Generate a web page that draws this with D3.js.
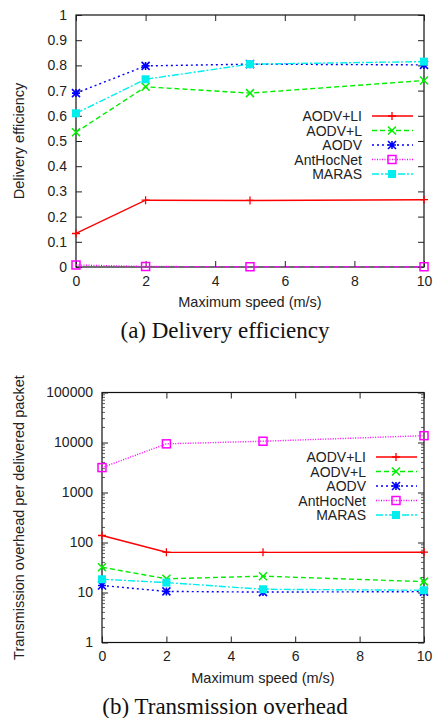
<!DOCTYPE html>
<html>
<head>
<meta charset="utf-8">
<script src="https://cdn.jsdelivr.net/npm/d3@7"></script>
<style>
  body { margin: 0; background: #fff; }
  svg { display: block; }
  .tick text, .lbl { font-family: "Liberation Sans", Arial, sans-serif; fill: #222; }
  .cap { font-family: "Liberation Serif", "Times New Roman", serif; fill: #111; }
</style>
</head>
<body>
<svg id="chart" width="435" height="718"></svg>
<script>
// speeds on the x axis
var speeds = [0, 2, 5, 10];
var seriesNames = ["AODV+LI", "AODV+L", "AODV", "AntHocNet", "MARAS"];

// (a) delivery efficiency
var effLI   = [0.133, 0.265, 0.264, 0.267];
var effL    = [0.535, 0.715, 0.690, 0.740];
var effAODV = [0.690, 0.798, 0.805, 0.802];
var effAnt  = [0.008, 0.002, 0.001, 0.001];
var effMAR  = [0.610, 0.745, 0.805, 0.815];

// (b) transmission overhead per delivered packet
var ovLI   = [138, 64, 63.5, 64];
var ovL    = [32, 18.8, 21.2, 16.5];
var ovAODV = [13.8, 10.5, 10.2, 10.4];
var ovAnt  = [3150, 9400, 10600, 13700];
var ovMAR  = [18.4, 15.8, 11.6, 11.1];

var effTicks = [0, 0.1, 0.2, 0.3, 0.4, 0.5, 0.6, 0.7, 0.8, 0.9, 1];
var ovTicks = [1, 10, 100, 1000, 10000, 100000];
var xTicks = [0, 2, 4, 6, 8, 10];

var styles = [
  { color: "#ff0000", dash: null,       marker: "plus" },
  { color: "#00ee00", dash: "5,3",      marker: "cross" },
  { color: "#0000ff", dash: "2,3",      marker: "star" },
  { color: "#ff00ff", dash: "1,1.5",    marker: "openSquare" },
  { color: "#00eeee", dash: "7,2,2,2",  marker: "fillSquare" }
];

var svg = d3.select("#chart");

function drawMarker(g, type, x, y, color) {
  var s = 4;
  if (type === "plus") {
    g.append("path").attr("d", "M" + (x - s) + "," + y + "H" + (x + s) + "M" + x + "," + (y - s) + "V" + (y + s))
      .attr("stroke", color).attr("stroke-width", 1.3).attr("fill", "none");
  } else if (type === "cross") {
    g.append("path").attr("d", "M" + (x - s) + "," + (y - s) + "L" + (x + s) + "," + (y + s) + "M" + (x - s) + "," + (y + s) + "L" + (x + s) + "," + (y - s))
      .attr("stroke", color).attr("stroke-width", 1.5).attr("fill", "none");
  } else if (type === "star") {
    g.append("path").attr("d", "M" + (x - s) + "," + y + "H" + (x + s) + "M" + x + "," + (y - s) + "V" + (y + s) +
        "M" + (x - s) + "," + (y - s) + "L" + (x + s) + "," + (y + s) + "M" + (x - s) + "," + (y + s) + "L" + (x + s) + "," + (y - s))
      .attr("stroke", color).attr("stroke-width", 1.6).attr("fill", "none");
  } else if (type === "openSquare") {
    g.append("rect").attr("x", x - s).attr("y", y - s).attr("width", 2 * s).attr("height", 2 * s)
      .attr("stroke", color).attr("stroke-width", 1.5).attr("fill", "none");
  } else {
    g.append("rect").attr("x", x - s).attr("y", y - s).attr("width", 2 * s).attr("height", 2 * s)
      .attr("fill", color);
  }
}

function drawPanel(p) {
  var g = svg.append("g");
  var x = d3.scaleLinear().domain([0, 10]).range([p.left, p.right]);
  var y = p.y;

  // frame
  g.append("rect").attr("x", p.left).attr("y", p.top).attr("width", p.right - p.left).attr("height", p.bottom - p.top)
    .attr("fill", "none").attr("stroke", "#111").attr("stroke-width", 1.2);

  // ticks on all four sides, labels only bottom/left
  var xb = g.append("g").attr("transform", "translate(0," + p.bottom + ")")
    .call(d3.axisBottom(x).tickValues(xTicks).tickSizeInner(-6).tickSizeOuter(0).tickPadding(9));
  var xt = g.append("g").attr("transform", "translate(0," + p.top + ")")
    .call(d3.axisTop(x).tickValues(xTicks).tickSizeInner(-6).tickSizeOuter(0).tickFormat(""));
  var yl = g.append("g").attr("transform", "translate(" + p.left + ",0)")
    .call(d3.axisLeft(y).tickValues(p.ticks).tickSizeInner(-6).tickSizeOuter(0).tickPadding(9).tickFormat(p.fmt));
  var yr = g.append("g").attr("transform", "translate(" + p.right + ",0)")
    .call(d3.axisRight(y).tickValues(p.ticks).tickSizeInner(-6).tickSizeOuter(0).tickFormat(""));
  [xb, xt, yl, yr].forEach(function (a) {
    a.select(".domain").remove();
    a.selectAll(".tick line").attr("stroke", "#222");
    a.selectAll(".tick text").style("font-size", "14px");
  });

  // minor log ticks
  if (p.minor) {
    var minor = [];
    p.ticks.slice(0, -1).forEach(function (d) {
      for (var k = 2; k <= 9; k++) minor.push(d * k);
    });
    g.selectAll(".mnl").data(minor).enter().append("line")
      .attr("x1", p.left).attr("x2", p.left + 3)
      .attr("y1", function (d) { return y(d); }).attr("y2", function (d) { return y(d); })
      .attr("stroke", "#333").attr("stroke-width", 0.8);
    g.selectAll(".mnr").data(minor).enter().append("line")
      .attr("x1", p.right).attr("x2", p.right - 3)
      .attr("y1", function (d) { return y(d); }).attr("y2", function (d) { return y(d); })
      .attr("stroke", "#333").attr("stroke-width", 0.8);
  }

  // series
  var line = d3.line().x(function (d, i) { return x(speeds[i]); }).y(function (d) { return y(d); });
  p.data.forEach(function (vals, si) {
    var st = styles[si];
    g.append("path").datum(vals).attr("d", line)
      .attr("fill", "none").attr("stroke", st.color).attr("stroke-width", 1.4)
      .attr("stroke-dasharray", st.dash);
    vals.forEach(function (v, i) { drawMarker(g, st.marker, x(speeds[i]), y(v), st.color); });
  });

  // legend
  seriesNames.forEach(function (name, i) {
    var ly = p.legY + i * p.legStep;
    var st = styles[i];
    g.append("text").attr("class", "lbl").attr("x", p.legX).attr("y", ly + 5)
      .attr("text-anchor", "end").style("font-size", "14px").text(name);
    g.append("line").attr("x1", p.legX + 10).attr("x2", p.legX + 51).attr("y1", ly).attr("y2", ly)
      .attr("stroke", st.color).attr("stroke-width", 1.4).attr("stroke-dasharray", st.dash);
    drawMarker(g, st.marker, p.legX + 30, ly, st.color);
  });

  // axis titles and caption
  g.append("text").attr("class", "lbl").attr("x", (p.left + p.right) / 2).attr("y", p.bottom + 40)
    .attr("text-anchor", "middle").style("font-size", "14.5px").text("Maximum speed (m/s)");
  g.append("text").attr("class", "lbl")
    .attr("transform", "translate(24," + (p.top + p.bottom) / 2 + ") rotate(-90)")
    .attr("text-anchor", "middle").style("font-size", "14.5px").text(p.ylabel);
  g.append("text").attr("class", "cap").attr("x", p.capX).attr("y", p.bottom + 71)
    .attr("text-anchor", "middle").style("font-size", "23px").text(p.caption);
}

drawPanel({
  left: 76, right: 424, top: 15, bottom: 267,
  y: d3.scaleLinear().domain([0, 1]).range([267, 15]),
  ticks: effTicks, fmt: d3.format("~g"), minor: false,
  data: [effLI, effL, effAODV, effAnt, effMAR],
  legX: 362, legY: 116, legStep: 14.5,
  ylabel: "Delivery efficiency",
  caption: "(a) Delivery efficiency", capX: 225
});

drawPanel({
  left: 102, right: 424, top: 392.5, bottom: 642.5,
  y: d3.scaleLog().domain([1, 100000]).range([642.5, 392.5]),
  ticks: ovTicks, fmt: d3.format("d"), minor: true,
  data: [ovLI, ovL, ovAODV, ovAnt, ovMAR],
  legX: 366, legY: 457, legStep: 14.5,
  ylabel: "Transmission overhead per delivered packet",
  caption: "(b) Transmission overhead", capX: 225
});
</script>
</body>
</html>
